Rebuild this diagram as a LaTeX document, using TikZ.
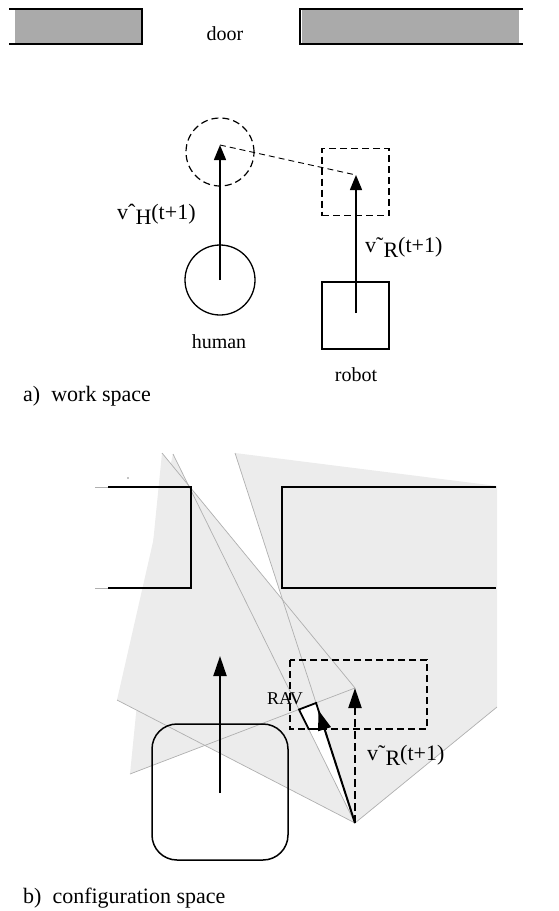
\documentclass[tikz,border=0pt]{standalone}
\usepackage{fontspec}
\setmainfont{Liberation Serif}
\usetikzlibrary{arrows.meta,calc}
\definecolor{wallgray}{RGB}{170,170,170}
\definecolor{vofill}{RGB}{236,236,236}
\definecolor{linegray}{RGB}{175,175,175}
\begin{document}
\begin{tikzpicture}[x=1pt,y=-1pt,
  wallline/.style={draw=black,line width=1.7pt},
  shapeline/.style={draw=black,line width=1.3pt},
  dashline/.style={draw=black,line width=1.2pt,dash pattern=on 7pt off 4pt},
  varrow/.style={line width=1.5pt,-{Triangle[length=15pt,width=12pt]}},
  cfgarrow/.style={line width=2pt,-{Triangle[length=20pt,width=13pt]}},
  vo/.style={fill=vofill,draw=none},
  voline/.style={draw=linegray,line width=0.7pt},
  obst/.style={draw=black,line width=1.8pt},
  lbl/.style={font=\fontsize{20}{24}\selectfont,inner sep=0pt},
  captxt/.style={font=\fontsize{22}{26}\selectfont,inner sep=0pt},
  sym/.style={font=\fontsize{22}{26}\selectfont,inner sep=0pt}]
\useasboundingbox (0,0) rectangle (558,911);

% ---------- a) work space ----------
\fill[wallgray] (15,9) rectangle (142,44);
\draw[wallline] (9,9) -- (142,9) -- (142,44) -- (9,44);
\fill[wallgray] (302,9) rectangle (519,44);
\draw[wallline] (523,9) -- (300,9) -- (300,44) -- (523,44);
\node[lbl,anchor=base] (door) at (225,40) {door};

\node[circle,shapeline,minimum size=70pt,inner sep=0pt] (hc) at (220,280) {};
\node[circle,dashline,minimum size=68pt,inner sep=0pt] (hd) at (220,152) {};
\node[rectangle,shapeline,minimum size=67pt,inner sep=0pt] (rs) at (355.5,315.5) {};
\node[rectangle,dashline,minimum size=67pt,inner sep=0pt] (rd) at (355.5,182) {};
\coordinate (htip) at (220,145);
\coordinate (rbase) at (356,313);
\coordinate (rtip) at (356,175);
\draw[varrow] (hc.center) -- (htip);
\draw[varrow] (rbase) -- (rtip);
\draw[line width=0.9pt,dash pattern=on 6pt off 4pt] (htip) -- (rtip);
\node[sym,anchor=base west] (vh) at (117,219) {vˆ\raisebox{-0.55ex}{H}(t+1)};
\node[sym,anchor=base west] (vr) at (365,252) {v˜\raisebox{-0.55ex}{R}(t+1)};
\node[lbl,anchor=base] (human) at (219,348) {human};
\node[lbl,anchor=base] (robot) at (356,381) {robot};
\node[captxt,anchor=base west] (capa) at (23,401) {a)\ \ work space};

% ---------- b) configuration space ----------
\coordinate (A) at (355,823);
\coordinate (T) at (355,688);
\coordinate (L1) at (173,454);
\coordinate (L2) at (235,453);
\coordinate (L3) at (162,453);
\coordinate (L4) at (117,700);
\coordinate (L5) at (130,774);
\coordinate (LR) at (497,707);
\coordinate (TR) at (497,486);
\coordinate (RB1) at (290,729);
\coordinate (RB2) at (427,729);

% velocity obstacle regions
\fill[vo] (A) -- (L2) -- (TR) -- (LR) -- cycle;
\fill[vo] (T) -- (L3) -- (L5) -- cycle;
\fill[vo] (A) -- (L1) -- (L4) -- cycle;

% cone boundary lines
\draw[voline] (A) -- (L1);
\draw[voline] (A) -- (L2);
\draw[voline] (T) -- (L3);
\draw[voline] (A) -- (L4);
\draw[voline] (T) -- (L5);
\draw[voline] (A) -- (LR);

% obstacles
\draw[voline] (95,487) -- (108,487);
\draw[voline] (95,588) -- (108,588);
\draw[obst] (108,487) -- (191,487) -- (191,588) -- (108,588);
\draw[obst] (496,487) -- (282,487) -- (282,588) -- (496,588);
\fill[black] (128,478) circle (0.6pt);

% human (grown) and its velocity
\node[rectangle,rounded corners=25pt,draw=black,line width=1.5pt,minimum width=136pt,minimum height=136pt,inner sep=0pt] (hb) at (220,792) {};
\coordinate (hbase) at (220,793);
\coordinate (hvtip) at (220,656);
\draw[cfgarrow] (hbase) -- (hvtip);

% reachable velocities (dashed)
\draw[dashline] (290,660) rectangle (427,729);
\draw[cfgarrow,line width=2.2pt,dash pattern=on 8pt off 4pt] (A) -- (T);

% RAV
\coordinate (P1) at (intersection of A--L1 and T--L5);
\coordinate (P2) at (intersection of A--L2 and T--L5);
\coordinate (P3) at (intersection of A--L2 and RB1--RB2);
\coordinate (P4) at (intersection of A--L1 and RB1--RB2);
\filldraw[fill=white,draw=black,line width=1.8pt,line join=miter] (P1) -- (P2) -- (P3) -- (P4) -- cycle;
\coordinate (vtip) at ($(A)!0.305!(L2)$);
\draw[cfgarrow] (A) -- (vtip);

\node[font=\fontsize{18}{20}\selectfont,inner sep=0pt,anchor=base west] (rav) at (267,704) {RAV};
\node[sym,anchor=base west] (vr2) at (367,760) {v˜\raisebox{-0.55ex}{R}(t+1)};
\node[captxt,anchor=base west] (capb) at (23,903) {b)\ \ configuration space};
\end{tikzpicture}
\end{document}
